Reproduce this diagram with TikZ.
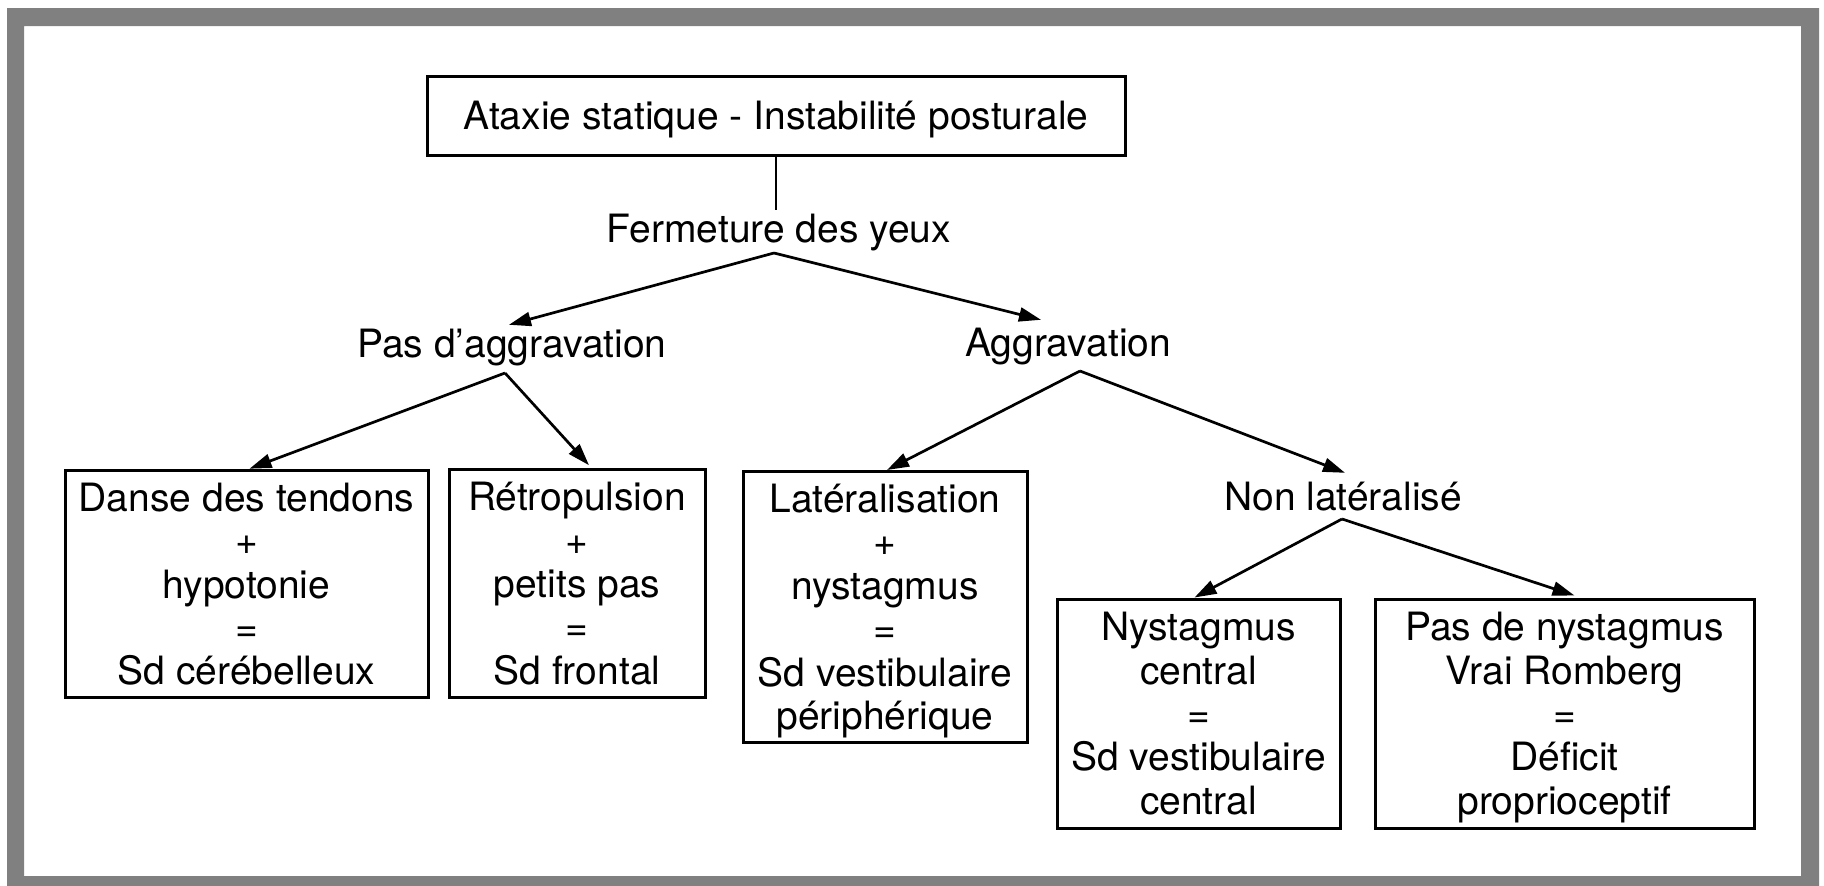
\documentclass[tikz,border=0pt]{standalone}
\usepackage{fontspec}
\setmainfont{TeX Gyre Heros}
\usetikzlibrary{arrows.meta}
\definecolor{frameg}{RGB}{128,128,128}
\newcommand{\topst}{\rule{0pt}{41pt}}
\newcommand{\botst}{\rule[-13pt]{0pt}{13pt}}
\begin{document}
\begin{tikzpicture}[x=1pt,y=-1pt,
  every node/.style={font=\fontsize{39pt}{43.4pt}\selectfont},
  box/.style={draw, line width=3pt, inner sep=0pt, align=center},
  lab/.style={inner xsep=3pt, inner ysep=4pt, text height=28pt, text depth=0pt},
  conn/.style={line width=2.7pt},
  arr/.style={conn, -{Triangle[length=22pt,width=14pt]}}]
\useasboundingbox (0,0) rectangle (1824,886);
\fill[white] (0,0) rectangle (1824,886);
\fill[frameg, even odd rule] (7,8) rectangle (1819,890) (24,26) rectangle (1801,876);

\node[box, minimum width=698pt, minimum height=79pt] (top) at (776,115.5) {\topst Ataxie statique - Instabilité posturale\botst};
\node[lab] (fer) at (779,228) {Fermeture des yeux};
\node[lab] (pas) at (512,343) {Pas d'aggravation};
\node[lab] (agg) at (1068,342) {Aggravation};
\node[lab] (nonlat) at (1343,496) {Non latéralisé};

\node[box, minimum width=363pt, minimum height=222pt] (danse) at (246.5,584)
  {\topst Danse des tendons\\+\\hypotonie\\=\\Sd cérébelleux\botst};
\node[box, minimum width=256pt, minimum height=221pt] (retro) at (577,583.5)
  {\topst Rétropulsion\\+\\petits pas\\=\\Sd frontal\botst};
\node[box, minimum width=284pt, minimum height=266pt] (lat) at (885,607)
  {\topst Latéralisation\\+\\nystagmus\\=\\Sd vestibulaire\\périphérique\botst};
\node[box, minimum width=283pt, minimum height=229pt] (nystc) at (1198.5,713.5)
  {\topst Nystagmus\\central\\=\\Sd vestibulaire\\central\botst};
\node[box, minimum width=379pt, minimum height=229pt] (pasnys) at (1564.5,713.5)
  {\topst Pas de nystagmus\\Vrai Romberg\\=\\Déficit\\proprioceptif\botst};

\coordinate (fa) at (774,253);
\coordinate (pa) at (505,373);
\coordinate (aa) at (1080,371);
\coordinate (na) at (1342,519);

\draw[conn] (top.south) -- (top.south |- fer.north);
\draw[arr] (fa) -- ([xshift=-3pt]pas.north);
\draw[arr] (fa) -- ([xshift=-27pt,yshift=4pt]agg.north);
\draw[arr] (pa) -- ([xshift=3pt]danse.north);
\draw[arr] (pa) -- ([xshift=12pt,yshift=3pt]retro.north);
\draw[arr] (aa) -- ([xshift=2pt]lat.north);
\draw[arr] (aa) -- ([xshift=2pt,yshift=5pt]nonlat.north);
\draw[arr] (na) -- ([xshift=-4pt]nystc.north);
\draw[arr] (na) -- ([xshift=10pt,yshift=2pt]pasnys.north);
\end{tikzpicture}
\end{document}
